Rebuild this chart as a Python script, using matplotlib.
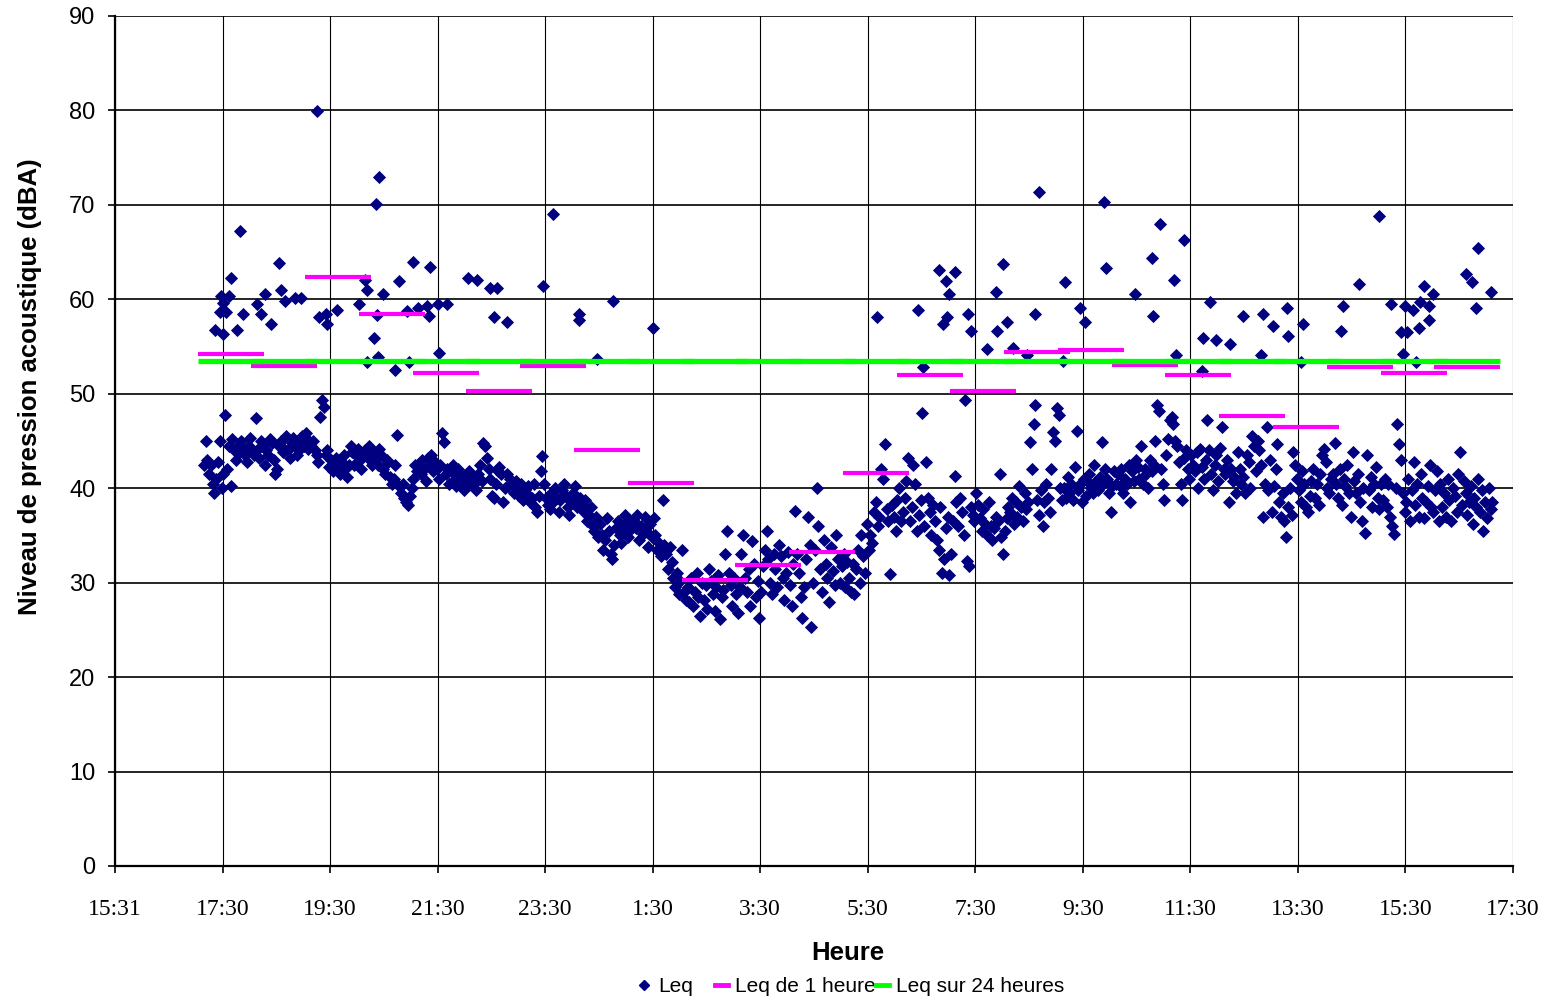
import numpy as np
import matplotlib
matplotlib.use("Agg")
import matplotlib.pyplot as plt
from matplotlib.lines import Line2D

# ---------------- data ----------------
x_tick_labels = ["15:31", "17:30", "19:30", "21:30", "23:30", "1:30", "3:30",
                 "5:30", "7:30", "9:30", "11:30", "13:30", "15:30", "17:30"]
y_ticks = [0, 10, 20, 30, 40, 50, 60, 70, 80, 90]

leq_start = "17:10"       # first 2-minute Leq sample
leq_step_min = 2
leq_by_hour = [
    [42.5, 45.0, 43.0, 41.5, 42.5, 40.5, 39.5, 41.0, 42.8, 45.0, 40.0, 41.5, 47.7, 42.0, 44.5, 40.2, 45.2, 44.0, 43.0, 44.5, 43.8, 45.0, 44.2, 43.5, 42.8, 44.5, 45.3, 44.0, 43.5, 47.4],
    [44.0, 43.2, 45.0, 44.5, 42.5, 44.0, 43.5, 45.2, 44.8, 43.0, 41.5, 42.0, 44.5, 45.0, 43.8, 44.2, 45.5, 44.0, 43.2, 44.8, 45.3, 44.5, 43.5, 44.0, 45.0, 45.5, 44.5, 45.8, 44.2, 45.0],
    [44.5, 45.0, 44.0, 43.5, 42.8, 47.5, 49.3, 48.6, 43.5, 44.0, 42.2, 43.0, 41.8, 42.5, 43.2, 42.0, 41.5, 42.8, 43.5, 42.0, 41.2, 42.5, 44.5, 43.8, 42.5, 43.5, 44.2, 43.0, 42.0, 43.5],
    [44.0, 43.5, 44.5, 43.0, 42.5, 43.8, 43.2, 42.5, 44.2, 43.5, 42.0, 41.5, 43.0, 42.8, 41.2, 40.5, 41.0, 42.5, 45.6, 40.2, 39.5, 40.5, 39.0, 38.5, 38.2, 39.2, 40.0, 41.0, 42.5, 41.8],
    [42.5, 41.5, 43.0, 42.0, 40.8, 43.2, 42.5, 43.5, 41.8, 42.8, 42.0, 41.0, 42.5, 45.9, 44.9, 41.5, 42.0, 40.5, 41.8, 42.5, 41.0, 40.2, 42.0, 41.5, 40.8, 39.8, 41.2, 40.5, 41.8, 40.5],
    [41.0, 40.5, 39.8, 41.5, 42.5, 40.8, 44.8, 44.5, 43.2, 42.0, 41.0, 39.2, 39.0, 40.5, 41.8, 42.2, 41.5, 38.5, 40.0, 41.5, 40.2, 41.0, 40.5, 39.5, 40.8, 40.0, 39.2, 40.5, 38.8, 39.8],
    [39.5, 40.2, 38.5, 39.0, 40.5, 38.0, 37.5, 39.2, 41.8, 43.4, 40.5, 39.0, 38.2, 37.8, 39.5, 38.5, 40.0, 39.0, 37.5, 38.8, 39.8, 40.5, 39.2, 38.0, 37.2, 38.5, 39.5, 40.2, 38.0, 39.0],
    [39.0, 38.2, 37.5, 38.8, 36.5, 37.2, 38.0, 36.0, 35.5, 37.0, 34.8, 36.2, 35.0, 33.5, 34.5, 36.8, 35.5, 33.0, 32.5, 34.0, 35.8, 36.5, 35.0, 34.2, 36.0, 37.2, 35.5, 34.8, 36.5, 35.8],
    [36.5, 35.8, 37.2, 34.5, 36.0, 35.2, 37.0, 35.5, 33.8, 36.2, 34.8, 36.8, 35.0, 33.5, 34.2, 32.8, 38.7, 34.0, 33.0, 31.5, 33.8, 32.2, 30.5, 29.5, 31.0, 28.8, 30.2, 33.5, 29.0, 28.2],
    [29.5, 28.0, 30.5, 27.5, 29.0, 31.0, 28.5, 26.5, 30.0, 28.2, 29.8, 27.2, 31.5, 30.2, 28.8, 27.0, 29.5, 30.8, 26.2, 28.5, 29.2, 33.0, 35.5, 31.0, 29.8, 27.5, 30.5, 28.8, 26.8, 29.5],
    [33.0, 35.0, 30.5, 29.0, 31.5, 27.5, 34.4, 32.0, 28.5, 30.2, 26.3, 29.0, 31.8, 33.5, 35.5, 32.5, 30.0, 28.8, 33.0, 31.5, 29.5, 34.0, 32.8, 30.5, 28.2, 31.0, 33.2, 29.8, 27.5, 32.0],
    [37.6, 33.0, 31.0, 28.5, 26.3, 29.5, 32.5, 37.0, 34.0, 25.3, 30.0, 33.5, 40.0, 36.0, 31.5, 29.0, 34.5, 32.0, 30.5, 28.0, 33.8, 31.2, 29.8, 35.0, 32.5, 30.0, 31.8, 33.0, 29.5, 32.2],
    [30.5, 29.0, 32.0, 28.8, 31.5, 33.5, 30.0, 35.0, 32.8, 31.0, 36.2, 33.5, 35.0, 34.2, 37.5, 38.5, 36.0, 37.0, 42.0, 41.0, 44.7, 37.8, 36.5, 30.9, 38.2, 37.0, 35.5, 38.8, 40.0, 36.5],
    [37.5, 39.0, 40.8, 43.2, 36.5, 38.0, 42.5, 40.5, 35.5, 37.2, 38.8, 48.0, 36.0, 42.8, 39.0, 37.5, 35.0, 38.2, 36.5, 34.5, 33.5, 38.0, 31.0, 32.5, 35.8, 37.0, 30.8, 33.0, 36.5, 41.3],
    [38.5, 36.0, 39.0, 37.5, 35.0, 49.3, 32.3, 31.8, 38.0, 37.2, 36.5, 39.5, 38.2, 36.8, 35.5, 37.8, 36.2, 35.0, 38.5, 36.0, 34.5, 35.8, 37.0, 36.5, 41.5, 34.8, 33.0, 35.5, 36.8, 38.0],
    [37.5, 39.0, 36.2, 38.5, 37.0, 40.2, 38.0, 36.5, 39.5, 37.8, 38.5, 44.9, 42.0, 46.8, 48.8, 38.8, 37.2, 39.8, 36.0, 38.5, 40.5, 39.0, 37.5, 42.0, 46.0, 45.0, 48.5, 47.8, 40.0, 38.8],
    [40.0, 39.0, 41.2, 39.5, 40.5, 38.8, 42.2, 46.1, 39.8, 40.5, 38.5, 41.0, 39.2, 40.8, 41.5, 40.0, 39.5, 42.5, 40.8, 39.8, 41.2, 44.9, 40.5, 42.0, 41.0, 39.5, 37.5, 40.2, 41.8, 40.5],
    [41.5, 40.2, 42.0, 39.5, 41.0, 40.5, 42.5, 38.5, 41.8, 40.8, 43.0, 42.2, 41.0, 44.5, 40.5, 42.0, 41.5, 40.0, 43.0, 41.8, 42.5, 45.0, 48.8, 48.2, 42.0, 40.5, 38.8, 43.5, 45.2, 47.2],
    [47.5, 46.8, 45.0, 44.5, 42.8, 40.5, 38.7, 43.2, 44.0, 42.0, 41.0, 43.5, 42.5, 41.8, 43.8, 40.0, 44.2, 42.2, 41.0, 43.0, 47.2, 44.0, 41.5, 39.8, 42.5, 43.5, 40.8, 44.3, 46.5, 42.0],
    [41.5, 43.0, 38.5, 42.0, 40.8, 41.2, 39.5, 43.8, 42.0, 40.5, 41.2, 39.5, 43.5, 42.8, 40.0, 45.5, 44.5, 41.8, 45.0, 44.0, 42.5, 37.0, 40.5, 46.5, 39.8, 43.0, 37.5, 40.2, 42.0, 44.7],
    [38.5, 37.0, 39.5, 36.5, 34.8, 38.0, 40.0, 37.2, 43.8, 42.5, 41.0, 39.8, 38.5, 41.8, 40.5, 38.0, 37.5, 39.2, 40.8, 42.0, 39.0, 40.5, 38.2, 41.5, 43.5, 44.2, 42.8, 40.0, 39.5, 41.0],
    [41.5, 44.8, 40.5, 39.0, 42.0, 38.2, 41.0, 40.2, 42.5, 39.5, 37.0, 43.8, 40.8, 39.5, 41.5, 38.5, 36.5, 40.0, 35.3, 43.5, 39.8, 41.2, 38.0, 40.5, 42.2, 39.0, 37.8, 40.5, 38.8, 41.0],
    [38.0, 40.5, 37.0, 36.0, 35.2, 40.0, 46.8, 44.7, 43.0, 39.5, 37.5, 38.5, 41.0, 36.5, 39.8, 42.8, 38.2, 40.5, 37.0, 41.5, 39.0, 36.8, 38.5, 40.2, 42.5, 38.0, 37.5, 39.8, 41.8, 36.5],
    [40.5, 38.0, 39.5, 37.0, 41.0, 38.8, 36.5, 40.0, 39.2, 37.5, 41.5, 43.8, 38.2, 40.8, 39.5, 37.2, 38.5, 40.2, 36.2, 39.0, 38.0, 41.0, 37.5, 39.8, 35.5, 38.5, 36.8, 40.0, 37.8, 38.5],
]

# isolated high Leq readings (time in decimal hours, continuing past midnight)
peak_times = [19.27, 20.42, 20.38, 17.85, 18.56, 21.05, 21.38, 17.67, 20.17, 20.79,
              22.09, 22.24, 22.49, 22.62, 23.47, 17.48, 17.64, 17.52, 17.47, 17.59,
              17.38, 17.53, 17.78, 17.89, 18.15, 18.23, 18.31, 18.41, 18.60, 18.68,
              18.86, 18.98, 19.31, 19.45, 19.46, 19.64, 20.05, 20.20, 20.50, 20.34,
              20.39, 20.41, 20.21, 20.72, 20.94, 20.99, 21.16, 21.31, 21.36, 21.53,
              21.69, 21.54, 22.57, 22.80, 23.66, 24.14, 24.15, 24.48, 24.77, 25.52,
              29.68, 30.46, 30.54, 30.84, 31.13, 30.98, 31.02, 30.99, 30.91, 31.39,
              31.43, 31.73, 31.91, 31.92, 32.03, 32.11, 32.21, 32.47, 32.63, 32.71,
              33.18, 33.14, 33.47, 33.55, 33.91, 33.95, 34.48, 34.81, 34.82, 34.95,
              35.21, 35.40, 35.25, 35.88, 35.76, 35.99, 36.25, 35.74, 36.50, 36.87,
              37.06, 36.83, 37.32, 37.33, 37.61, 37.58, 38.36, 38.32, 38.65, 39.02,
              39.24, 39.43, 39.55, 39.50, 39.47, 39.65, 39.79, 39.76, 39.87, 39.95,
              39.96, 40.02, 39.72, 40.64, 40.76, 40.87, 40.83, 41.10]
peak_values = [79.9, 72.9, 70.1, 67.2, 63.8, 64.0, 63.4, 62.3, 62.1, 61.9,
               62.3, 62.1, 61.2, 61.2, 61.4, 60.4, 60.4, 59.6, 58.7, 58.7,
               56.8, 56.3, 56.8, 58.4, 59.5, 58.5, 60.6, 57.4, 61.0, 59.8,
               60.1, 60.1, 58.1, 58.5, 57.4, 58.9, 59.5, 61.0, 60.6, 55.9,
               58.3, 53.9, 53.4, 52.5, 58.8, 53.4, 59.1, 59.3, 58.2, 59.5,
               59.5, 54.3, 58.1, 57.6, 69.0, 58.5, 57.8, 53.7, 59.8, 57.0,
               58.1, 58.9, 52.8, 63.1, 62.9, 61.9, 60.6, 58.1, 57.4, 58.5,
               56.6, 54.7, 60.8, 56.7, 63.7, 57.6, 54.8, 54.1, 58.5, 71.4,
               61.8, 53.5, 59.1, 57.6, 70.3, 63.3, 60.6, 64.4, 58.2, 68.0,
               62.0, 66.3, 54.1, 59.7, 55.9, 55.7, 55.3, 52.4, 58.2, 58.4,
               57.2, 54.1, 59.1, 56.1, 57.4, 53.4, 59.3, 56.7, 61.6, 68.8,
               59.5, 56.5, 56.5, 59.3, 54.2, 58.9, 59.7, 57.0, 61.4, 59.3,
               57.8, 60.6, 53.4, 62.7, 61.8, 65.4, 59.1, 60.8]

hourly_centers = ["17:40", "18:40", "19:40", "20:40", "21:40", "22:40", "23:40", "0:40",
                  "1:40", "2:40", "3:40", "4:40", "5:40", "6:40", "7:40", "8:40",
                  "9:40", "10:40", "11:40", "12:40", "13:40", "14:40", "15:40", "16:40"]
hourly_leq = [54.2, 52.9, 62.4, 58.4, 52.2, 50.3, 52.9, 44.0, 40.6, 30.3, 31.9, 33.2,
              41.6, 52.0, 50.3, 54.4, 54.6, 53.0, 52.0, 47.6, 46.5, 52.8, 52.2, 52.8]
leq_24h = 53.5

axis_start = "15:31"


def clock_to_hours(s, wrap_before):
    h, m = s.split(":")
    v = int(h) + int(m) / 60.0
    if v < wrap_before:
        v += 24.0
    return v


# ---------------- build series ----------------
band_values = np.concatenate([np.array(h, dtype=float) for h in leq_by_hour])
t0 = clock_to_hours(leq_start, 0.0)
band_times = t0 + np.arange(len(band_values)) * leq_step_min / 60.0

hc = np.array([clock_to_hours(s, t0) for s in hourly_centers])
x0 = clock_to_hours(axis_start, 0.0)
x_ticks = x0 + 2.0 * np.arange(len(x_tick_labels))

# ---------------- figure ----------------
fig = plt.figure(figsize=(15.5, 10), dpi=100)
ax = fig.add_axes([115 / 1550, 1 - 866 / 1000, (1513 - 115) / 1550, (866 - 16) / 1000])

navy = "#000080"
magenta = "#FF00FF"
green = "#00FF00"

ax.set_xlim(x_ticks[0], x_ticks[-1])
ax.set_ylim(0, 90)
ax.set_yticks(y_ticks)
ax.set_xticks(x_ticks)
ax.set_xticklabels(x_tick_labels, family="Liberation Serif", fontsize=17)
for lab in ax.get_yticklabels():
    lab.set_family("Liberation Sans")
    lab.set_fontsize(17)

ax.set_axisbelow(True)
ax.yaxis.grid(True, color="black", lw=1.2)
ax.xaxis.grid(True, color="black", lw=0.8)

for sp in ["top", "right"]:
    ax.spines[sp].set_visible(False)
for sp in ["left", "bottom"]:
    ax.spines[sp].set_linewidth(1.6)
    ax.spines[sp].set_color("black")

ax.tick_params(axis="x", direction="out", length=5, width=1.2, pad=19)
ax.tick_params(axis="y", direction="out", length=5, width=1.2, pad=9)

# series
ax.plot(np.concatenate([band_times, peak_times]),
        np.concatenate([band_values, peak_values]),
        ls="none", marker="D", ms=5.8, color=navy, mec=navy, mew=0.6, zorder=3,
        clip_on=False)
ax.plot(hc, hourly_leq, ls="none", marker="_", ms=47.5, mew=3.0, color=magenta, zorder=4)
ax.plot(hc, [leq_24h] * len(hc), ls="none", marker="_", ms=47.5, mew=3.8, color=green, zorder=5)

ax.set_xlabel("Heure", family="Liberation Sans", fontweight="bold", fontsize=18.5)
ax.xaxis.set_label_coords((848 - 115) / 1398, (866 - 941) / 850)
ax.set_ylabel("Niveau de pression acoustique (dBA)", family="Liberation Sans",
              fontweight="bold", fontsize=18.5)
ax.yaxis.set_label_coords((42 - 115) / 1398, (866 - 387) / 850)

# legend (three single entries positioned like the original)
fs_leg = 15
h1 = Line2D([], [], ls="none", marker="D", ms=5.5, color=navy)
h2 = Line2D([], [], color=magenta, lw=3.5)
h3 = Line2D([], [], color=green, lw=3.5)
for handle, label, xpix in [(h1, "Leq", 638), (h2, "Leq de 1 heure", 715),
                            (h3, "Leq sur 24 heures", 876)]:
    fig.legend([handle], [label], loc="center left",
               bbox_to_anchor=(xpix / 1550, 1 - 987 / 1000),
               frameon=False, borderpad=0, borderaxespad=0,
               handlelength=0.6, handletextpad=0.35,
               prop={"family": "Liberation Sans", "size": fs_leg})

fig.savefig("out.png", dpi=100)
